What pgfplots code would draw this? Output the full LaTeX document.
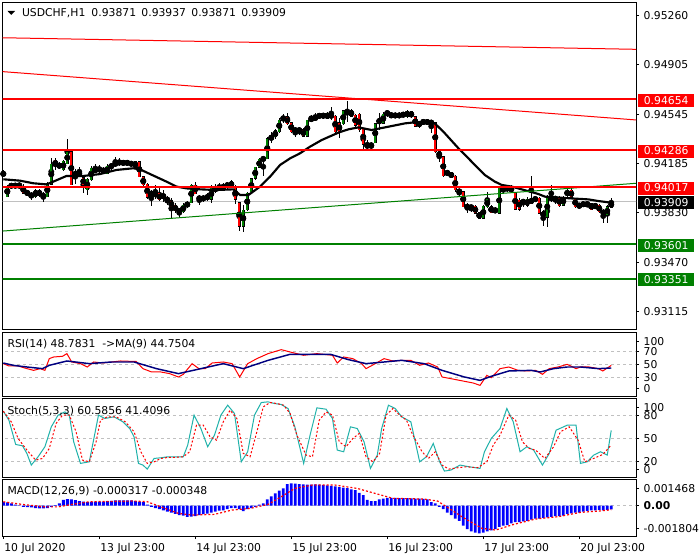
\documentclass[border=0pt]{standalone}
\usepackage{fontspec}
\setmainfont{DejaVu Sans}
\usepackage{pgfplots}
\usepackage{pgfplotstable}
\pgfplotsset{compat=1.18}
\definecolor{mtred}{RGB}{255,0,0}
\definecolor{mtgreen}{RGB}{0,128,0}
\definecolor{mtgray}{RGB}{192,192,192}
\definecolor{mtnavy}{RGB}{0,0,128}
\definecolor{mtteal}{RGB}{32,178,170}
\definecolor{mtblue}{RGB}{0,0,255}

\pgfplotstableread{
k o h l c
1 0.93947 0.94036 0.93942 0.94020
3 0.94015 0.94049 0.94007 0.94039
6 0.93966 0.93995 0.93952 0.93983
8 0.93947 0.94000 0.93934 0.93990
9 0.93959 0.94000 0.93947 0.93990
11 0.93947 0.94056 0.93942 0.94044
12 0.94039 0.94225 0.94032 0.94184
14 0.94160 0.94201 0.94145 0.94184
15 0.94141 0.94213 0.94136 0.94206
16 0.94189 0.94363 0.94184 0.94274
19 0.94104 0.94160 0.94097 0.94128
21 0.94000 0.94080 0.93959 0.94073
22 0.94068 0.94170 0.94063 0.94153
24 0.94128 0.94174 0.94121 0.94160
26 0.94116 0.94184 0.94111 0.94170
28 0.94170 0.94233 0.94165 0.94201
30 0.94184 0.94213 0.94170 0.94201
33 0.94160 0.94208 0.94153 0.94201
37 0.93947 0.93995 0.93879 0.93983
45 0.93838 0.93898 0.93831 0.93886
46 0.93874 0.93918 0.93862 0.93908
47 0.93903 0.94039 0.93898 0.94032
50 0.93923 0.93959 0.93910 0.93947
51 0.93927 0.93971 0.93918 0.93959
52 0.93927 0.94032 0.93903 0.94007
55 0.94000 0.94044 0.93995 0.94032
57 0.94020 0.94068 0.94007 0.94056
60 0.93734 0.93886 0.93693 0.93850
61 0.93850 0.93983 0.93845 0.93971
62 0.93983 0.94087 0.93976 0.94080
63 0.94080 0.94165 0.94068 0.94160
64 0.94160 0.94225 0.94153 0.94218
65 0.94218 0.94230 0.94097 0.94225
66 0.94225 0.94378 0.94223 0.94370
67 0.94363 0.94419 0.94334 0.94387
68 0.94383 0.94436 0.94370 0.94426
69 0.94419 0.94516 0.94412 0.94504
70 0.94499 0.94547 0.94479 0.94533
74 0.94426 0.94450 0.94395 0.94436
76 0.94387 0.94508 0.94383 0.94504
77 0.94499 0.94540 0.94492 0.94521
78 0.94504 0.94552 0.94499 0.94533
79 0.94523 0.94552 0.94516 0.94547
81 0.94516 0.94564 0.94508 0.94552
85 0.94479 0.94576 0.94467 0.94571
86 0.94552 0.94642 0.94492 0.94564
92 0.94305 0.94346 0.94286 0.94339
93 0.94339 0.94484 0.94334 0.94479
94 0.94479 0.94557 0.94431 0.94516
95 0.94479 0.94564 0.94475 0.94547
98 0.94528 0.94557 0.94516 0.94547
100 0.94533 0.94564 0.94523 0.94552
101 0.94528 0.94576 0.94523 0.94571
104 0.94460 0.94499 0.94450 0.94492
106 0.94479 0.94508 0.94470 0.94499
120 0.93789 0.93886 0.93782 0.93879
121 0.93874 0.93983 0.93862 0.93927
124 0.93826 0.94020 0.93821 0.94015
125 0.93983 0.94024 0.93971 0.94020
126 0.93995 0.94029 0.93983 0.94020
130 0.93898 0.93934 0.93874 0.93923
131 0.93886 0.93942 0.93874 0.93927
133 0.93923 0.93947 0.93910 0.93934
136 0.93797 0.93959 0.93729 0.93952
137 0.93923 0.94032 0.93910 0.93947
138 0.93923 0.93952 0.93898 0.93942
140 0.93886 0.93952 0.93879 0.93942
141 0.93952 0.94007 0.93942 0.93995
145 0.93886 0.93910 0.93874 0.93898
151 0.93814 0.93886 0.93758 0.93874
152 0.93871 0.93937 0.93871 0.93909
}\bull

\pgfplotstableread{
k o h l c
0 0.94128 0.94141 0.94087 0.94097
2 0.94039 0.94049 0.94005 0.94015
4 0.94039 0.94044 0.94007 0.94020
5 0.94024 0.94039 0.93966 0.93971
7 0.93971 0.93983 0.93927 0.93942
10 0.93966 0.93983 0.93910 0.93942
13 0.94213 0.94225 0.94141 0.94170
17 0.94274 0.94279 0.94032 0.94036
18 0.94128 0.94145 0.94039 0.94097
20 0.94087 0.94097 0.93971 0.94032
23 0.94153 0.94184 0.94121 0.94128
25 0.94145 0.94165 0.94111 0.94121
27 0.94177 0.94194 0.94145 0.94160
29 0.94206 0.94225 0.94170 0.94184
31 0.94201 0.94208 0.94174 0.94184
32 0.94201 0.94208 0.94165 0.94174
34 0.94201 0.94208 0.94087 0.94092
35 0.94092 0.94097 0.94020 0.94032
36 0.94039 0.94044 0.93927 0.93942
38 0.93983 0.94032 0.93934 0.93947
39 0.93971 0.94007 0.93918 0.93923
40 0.93959 0.93995 0.93910 0.93942
41 0.93942 0.93952 0.93886 0.93910
42 0.93918 0.93934 0.93789 0.93869
43 0.93886 0.93898 0.93831 0.93845
44 0.93850 0.93862 0.93797 0.93838
48 0.94032 0.94056 0.93966 0.93971
49 0.93947 0.93959 0.93886 0.93923
53 0.94020 0.94039 0.93971 0.93983
54 0.94020 0.94044 0.93990 0.94000
56 0.94044 0.94056 0.94007 0.94020
58 0.94020 0.94032 0.93898 0.93927
59 0.93903 0.93910 0.93700 0.93734
71 0.94528 0.94557 0.94467 0.94479
72 0.94484 0.94492 0.94412 0.94419
73 0.94436 0.94443 0.94383 0.94426
75 0.94436 0.94443 0.94383 0.94387
80 0.94547 0.94557 0.94516 0.94523
82 0.94547 0.94600 0.94504 0.94523
83 0.94533 0.94540 0.94395 0.94419
84 0.94484 0.94516 0.94370 0.94419
87 0.94571 0.94581 0.94528 0.94533
88 0.94540 0.94552 0.94455 0.94467
89 0.94547 0.94552 0.94419 0.94436
90 0.94436 0.94443 0.94291 0.94329
91 0.94329 0.94358 0.94291 0.94305
96 0.94571 0.94576 0.94528 0.94540
97 0.94552 0.94557 0.94516 0.94528
99 0.94547 0.94552 0.94523 0.94528
102 0.94564 0.94571 0.94516 0.94528
103 0.94528 0.94533 0.94455 0.94460
105 0.94499 0.94508 0.94475 0.94479
107 0.94492 0.94504 0.94412 0.94479
108 0.94484 0.94492 0.94262 0.94274
109 0.94274 0.94281 0.94201 0.94237
110 0.94237 0.94242 0.94092 0.94097
111 0.94128 0.94141 0.94097 0.94111
112 0.94121 0.94128 0.94080 0.94087
113 0.94097 0.94104 0.93983 0.93995
114 0.93995 0.94000 0.93952 0.93976
115 0.93983 0.93990 0.93869 0.93874
116 0.93879 0.93903 0.93831 0.93869
117 0.93874 0.93886 0.93838 0.93869
118 0.93879 0.93886 0.93821 0.93826
119 0.93831 0.93838 0.93782 0.93789
122 0.93874 0.93886 0.93826 0.93831
123 0.93862 0.93874 0.93826 0.93831
127 0.94020 0.94029 0.93976 0.93983
128 0.93976 0.93983 0.93850 0.93855
129 0.93923 0.93934 0.93845 0.93855
132 0.93934 0.94097 0.93893 0.93898
134 0.93934 0.93942 0.93821 0.93826
135 0.93838 0.93850 0.93734 0.93797
139 0.93942 0.93952 0.93874 0.93879
142 0.93995 0.94007 0.93934 0.93942
143 0.93934 0.93942 0.93869 0.93874
144 0.93886 0.93898 0.93869 0.93874
146 0.93903 0.93910 0.93869 0.93886
147 0.93898 0.93903 0.93850 0.93855
148 0.93886 0.93893 0.93862 0.93874
149 0.93886 0.93893 0.93831 0.93838
150 0.93845 0.93855 0.93758 0.93821
}\bear

\pgfplotstableread{
k v
0 0.94073
4.2 0.94063
7.5 0.94044
10.8 0.94036
12.5 0.94056
15.8 0.94097
20 0.94097
24.2 0.94111
28.3 0.94141
32.5 0.94153
34.2 0.94145
36.7 0.94111
40.8 0.94056
43.3 0.94020
45.8 0.94007
49.2 0.94000
53.3 0.93995
57.5 0.94000
59.2 0.93959
61.3 0.93959
64.2 0.94020
66.7 0.94092
69.2 0.94177
71.7 0.94225
74.2 0.94262
76.7 0.94310
79.6 0.94358
83.8 0.94412
86.3 0.94436
88.8 0.94450
92.1 0.94431
96.3 0.94455
100.4 0.94479
102.9 0.94487
105.4 0.94484
107.9 0.94479
110.4 0.94407
113.8 0.94298
117.1 0.94201
120.4 0.94104
122.9 0.94056
124.6 0.94032
127.1 0.94020
129.6 0.94000
133.8 0.93966
135.4 0.93947
137.9 0.93942
142.1 0.93934
146.3 0.93927
148.8 0.93915
152 0.93903
}\ma

\pgfplotstableread{
k v
0 51.6
1.4 47.9
3.7 47.9
5.9 43.7
7.6 41
9.2 43.7
10.4 41
11.5 59.5
12.6 62.1
14.8 63.2
15.9 67.4
17.1 54.2
19.3 51.6
21 46.3
22.6 54.2
24.9 52.6
27.1 54.2
29.3 55.8
31.6 55.3
33.2 55.3
34.9 43.7
37.1 38.4
39.4 38.4
41.6 35.8
43.8 30.5
45 34.7
47.2 51.6
48.9 43.7
50.5 43.7
52.2 52.6
55 54.2
57.2 51.6
59.1 30.5
61.1 51.6
63.4 59.5
66.2 67.4
69.5 73.7
71.7 70
75.1 64.8
78.4 67.4
82.3 64.8
83.5 52.6
85.1 62.1
87.4 59.5
89.6 51.6
90.7 43.7
93 51.6
95.2 59.5
97.4 55.8
99.6 56.8
101.9 56.8
104.1 49
106.3 52.6
108.6 46.3
109.7 30.5
111.9 27.9
115.3 23.7
117.5 21
119.2 17.3
120.9 33.1
122 29.4
124.2 43.7
126.4 46.3
128.7 41
130.9 40
133.1 41
134.8 34.7
136.5 43.7
138.7 46.3
141 50.5
143.2 43.7
144.3 46.3
146.5 46.3
148.8 43.7
149.9 40
152 48.78
}\rsi

\pgfplotstableread{
k v
0 52.6
2.5 48.9
5.9 46.3
9.8 43.7
11.5 48.9
15.9 55.8
21.5 51.6
27.1 54.2
32.7 54.2
38.3 43.7
43.8 35.8
49.4 43.7
55 51.6
60 43.7
66.2 56.8
71.7 66.3
77.3 66.3
81.8 66.3
86.3 57.9
90.7 51.6
95.2 54.2
99.6 56.8
105.2 51.6
109.7 41
115.3 30.5
119.2 25.2
122 31.6
126.4 40
132 41
134.2 38.4
137.6 43.7
141 46.3
144.3 46.3
148.8 43.7
152 44.75
}\rsima

\pgfplotstableread{
k v
0 85.9
1.4 74.1
3.1 42.1
4.8 40.4
5.9 30.3
7 15
8.7 25.9
10.4 39.1
12 65.3
13.7 80.7
15.4 85
16.5 80.7
17.6 45.6
19.3 17.2
21.5 19.3
23.8 80.7
25.4 76.3
27.7 78.5
29.9 71.9
31.6 63.1
32.7 52.2
33.8 17.2
34.9 15
36 9.7
37.7 23.7
39.4 24.6
41.1 25.9
42.7 25.9
45 25.9
46.1 41.2
47.7 80.7
49.4 63.1
51.1 39.1
52.8 54.4
54.4 80.7
56.1 93.8
57.8 82.9
59.5 19.3
61.1 32.5
62.8 80.7
64.5 97.3
66.2 98.2
67.8 96
69.5 94.7
71.2 89.4
72.9 65.3
75.1 17.2
76.8 56.6
78.4 90.3
80.7 88.5
82.3 76.3
83.5 34.7
85.1 32.5
86.8 65.3
88.5 63.1
90.2 45.6
91.8 10.6
93.5 28.1
94.6 63.1
96.3 93.8
98 89.4
99.6 78.5
101.9 71.9
104.1 19.3
105.8 25.9
107.5 43.4
109.1 19.3
110.3 7.1
111.9 8.4
114.2 15
116.4 12.8
119.2 10.6
120.3 32.5
122 50
124.2 63.1
125.9 89.4
127.5 71.9
129.2 32.5
130.9 39.1
132.6 34.7
134.8 15
136.5 30.3
138.2 60.9
141 67.5
143.2 67.5
144.3 17.2
146 19.3
147.6 28.1
149.3 32.5
151 28.1
152 60.59
}\stm

\pgfplotstableread{
k v
0 85.9
2 71.9
3.7 50
5.9 34.7
8.1 21.5
9.8 23.7
11.5 36.9
13.2 69.7
14.8 80.7
16.5 80.7
18.2 58.8
19.8 21.5
21.5 19.3
23.2 45.6
24.3 74.1
26 78.5
28.2 78.5
30.5 71.9
32.7 58.8
34.4 32.5
36 17.2
37.7 19.3
39.4 23.7
41.1 25
42.7 25
45 25.9
46.6 32.5
48.3 67.5
50 67.5
51.7 52.2
53.3 47.8
55 71.9
56.7 87.2
58.4 76.3
60 30.3
61.7 25.9
63.4 58.8
65 91.6
66.7 97.3
68.4 96
70.1 93.8
71.7 82.9
73.4 54.4
75.7 28.1
77.3 25.9
79 74.1
80.7 85
82.3 80.7
84 45.6
85.7 39.1
87.4 50
89 56.6
90.7 25.9
92.4 19.3
94.1 30.3
95.7 80.7
97.4 89.4
99.1 80.7
100.8 74.1
102.4 54.4
104.7 32.5
106.3 23.7
108 32.5
109.7 15
111.4 9.7
113.6 11.5
115.8 12.8
118.6 11.5
120.9 19.3
122.5 41.2
124.2 54.4
126.4 80.7
128.1 74.1
129.8 45.6
131.5 36.9
133.1 34.7
135.4 23.7
137.6 39.1
139.3 58.8
141.5 65.3
143.7 47.8
145.4 19.3
147.6 23.7
149.9 29
152 41.41
}\sts

\pgfplotstableread{
k v
0 0.0003
1 0.00028
2 0.0002
3 0.0001
4 0.00002
5 -0.0001
6 -0.00012
7 -0.00015
8 -0.0002
9 -0.00023
10 -0.00023
11 -0.0002
12 -0.0001
13 0.00005
14 0.0002
15 0.0005
16 0.00057
17 0.00055
18 0.00048
19 0.0004
20 0.00035
21 0.0003
22 0.00032
23 0.00035
24 0.00035
25 0.00036
26 0.0004
27 0.00042
28 0.00045
29 0.00046
30 0.00046
31 0.00046
32 0.00045
33 0.0004
34 0.00035
35 0.0003
36 0.0001
37 -0.0001
38 -0.0002
39 -0.0003
40 -0.0004
41 -0.0005
42 -0.0006
43 -0.0007
44 -0.0008
45 -0.00085
46 -0.00095
47 -0.00094
48 -0.0009
49 -0.0008
50 -0.00072
51 -0.00068
52 -0.0006
53 -0.0005
54 -0.00042
55 -0.0004
56 -0.0003
57 -0.0002
58 -0.0002
59 -0.0003
60 -0.00046
61 -0.0003
62 -0.0002
63 -0.0001
64 0.0001
65 0.0002
66 0.00055
67 0.0008
68 0.00105
69 0.0013
70 0.00148
71 0.00185
72 0.00191
73 0.0019
74 0.00185
75 0.00182
76 0.0018
77 0.0018
78 0.00182
79 0.0018
80 0.00177
81 0.00175
82 0.0017
83 0.00165
84 0.0016
85 0.00155
86 0.0015
87 0.0014
88 0.00134
89 0.0011
90 0.0009
91 0.0005
92 0.0004
93 0.0004
94 0.00055
95 0.0006
96 0.00068
97 0.00068
98 0.00068
99 0.00066
100 0.00066
101 0.00065
102 0.00062
103 0.0006
104 0.0006
105 0.00058
106 0.00055
107 0.0003
108 0.0002
109 -0.0001
110 -0.0003
111 -0.0006
112 -0.0008
113 -0.0011
114 -0.0013
115 -0.0017
116 -0.002
117 -0.0022
118 -0.0023
119 -0.00237
120 -0.0023
121 -0.0022
122 -0.0021
123 -0.002
124 -0.0018
125 -0.0017
126 -0.00165
127 -0.0015
128 -0.0014
129 -0.0014
130 -0.00135
131 -0.0013
132 -0.0012
133 -0.0011
134 -0.0011
135 -0.00105
136 -0.001
137 -0.00095
138 -0.0009
139 -0.0009
140 -0.00085
141 -0.0007
142 -0.00065
143 -0.0006
144 -0.0006
145 -0.0005
146 -0.00045
147 -0.0004
148 -0.0004
149 -0.00035
150 -0.0004
151 -0.00035
152 -0.000317
}\macdh

\pgfplotstableread{
k v
0 0.00034
4.8 0.00011
10.4 -0.0001
13.7 -0.0001
17.1 0.00011
21.5 0.00034
32.7 0.0004
36 0.00034
39.4 -0.0001
43.8 -0.00066
47.2 -0.0008
52.8 -0.00074
57.2 -0.00037
61.7 -0.00023
66.2 0.00011
69.5 0.00077
72.9 0.00148
77.3 0.00177
82.9 0.00177
88.5 0.00148
93 0.00105
97.4 0.00063
105.2 0.00057
108.6 0.0004
110.8 -0.00009
115.3 -0.00108
119.7 -0.00194
123.1 -0.00208
127.6 -0.0016
133.1 -0.00114
138.7 -0.00094
144.3 -0.00057
148.8 -0.00046
152 -0.000348
}\macds

\pgfplotsset{
  mtpanel/.style={
    scale only axis, width=475pt, xmin=-0.15, xmax=158.2,
    anchor=north west, clip mode=individual,
    axis line style={black, line width=0.75pt},
    xtick=\empty, ytick pos=right, tick align=outside,
    major tick length=2.25pt, tick style={black, line width=0.75pt},
    yticklabels={}, xticklabels={},
    scaled y ticks=false, scaled x ticks=false,
  },
  wick/.style={only marks, mark=none, forget plot,
    error bars/.cd, y dir=both, y explicit, error mark=none,
    error bar style={black, line width=0.75pt}},
  bodyout/.style={only marks, mark=none, forget plot,
    error bars/.cd, y dir=both, y explicit, error mark=none,
    error bar style={black, line width=2.4pt}},
  bodyin/.style={only marks, mark=none, forget plot,
    error bars/.cd, y dir=both, y explicit, error mark=none,
    error bar style={#1, line width=1.5pt}},
}
\tikzset{
  rlab/.style={anchor=west, inner sep=0pt, xshift=5.5pt},
  lvl/.style={anchor=west, inner sep=0pt, xshift=1.3pt, yshift=-0.8pt,
    minimum width=42.2pt, minimum height=9.75pt, fill=#1, text=white},
  dlab/.style={anchor=base west, inner sep=0pt, xshift=0.6pt, yshift=-11.8pt},
}

\begin{document}
\fontsize{8.1pt}{10pt}\selectfont
\begin{tikzpicture}
\fill[white] (0,0) rectangle (525pt,-420pt);
\path[use as bounding box] (0,0) rectangle (525pt,-420pt);

% ---------- main price panel ----------
\begin{axis}[mtpanel, at={(2.025pt,-2.25pt)}, height=245.25pt,
  ymin=0.929784, ymax=0.953534,
  ytick={0.93115,0.93470,0.93830,0.94185,0.94545,0.94905,0.95260}]
\addplot[mtgray, line width=0.75pt, forget plot] coordinates {(-1,0.93909) (160,0.93909)};
\addplot[wick] table[x=k, y expr={(\thisrow{h}+\thisrow{l})/2}, y error expr={(\thisrow{h}-\thisrow{l})/2}] {\bull};
\addplot[wick] table[x=k, y expr={(\thisrow{h}+\thisrow{l})/2}, y error expr={(\thisrow{h}-\thisrow{l})/2}] {\bear};
\addplot[bodyout] table[x=k, y expr={(\thisrow{o}+\thisrow{c})/2}, y error expr={abs(\thisrow{o}-\thisrow{c})/2+0.00003}] {\bull};
\addplot[bodyout] table[x=k, y expr={(\thisrow{o}+\thisrow{c})/2}, y error expr={abs(\thisrow{o}-\thisrow{c})/2+0.00003}] {\bear};
\addplot[bodyin=mtgreen] table[x=k, y expr={(\thisrow{o}+\thisrow{c})/2}, y error expr={abs(\thisrow{o}-\thisrow{c})/2}] {\bull};
\addplot[bodyin=mtred] table[x=k, y expr={(\thisrow{o}+\thisrow{c})/2}, y error expr={abs(\thisrow{o}-\thisrow{c})/2}] {\bear};
\addplot[black, line width=1.6pt, forget plot] table[x=k, y=v] {\ma};
% trend lines and levels
\addplot[mtred, line width=0.75pt, forget plot] coordinates {(-0.15,0.95101) (158.2,0.95017)};
\addplot[mtred, line width=0.75pt, forget plot] coordinates {(-0.15,0.94855) (158.2,0.94504)};
\addplot[mtgreen, line width=0.75pt, forget plot] coordinates {(-0.15,0.93697) (158.2,0.94044)};
\addplot[mtred, line width=1.5pt, forget plot] coordinates {(-1,0.94654) (160,0.94654)};
\addplot[mtred, line width=1.5pt, forget plot] coordinates {(-1,0.94286) (160,0.94286)};
\addplot[mtred, line width=1.5pt, forget plot] coordinates {(-1,0.94017) (160,0.94017)};
\addplot[mtgreen, line width=1.5pt, forget plot] coordinates {(-1,0.93601) (160,0.93601)};
\addplot[mtgreen, line width=1.5pt, forget plot] coordinates {(-1,0.93351) (160,0.93351)};
% right scale labels
\node[rlab] at (axis cs:158.2,0.95260) {0.95260};
\node[rlab] at (axis cs:158.2,0.94905) {0.94905};
\node[rlab] at (axis cs:158.2,0.94545) {0.94545};
\node[rlab] at (axis cs:158.2,0.94185) {0.94185};
\node[rlab] at (axis cs:158.2,0.93830) {0.93830};
\node[rlab] at (axis cs:158.2,0.93470) {0.93470};
\node[rlab] at (axis cs:158.2,0.93115) {0.93115};
\node[lvl=mtred] at (axis cs:158.2,0.94654) {0.94654};
\node[lvl=mtred] at (axis cs:158.2,0.94286) {0.94286};
\node[lvl=mtred] at (axis cs:158.2,0.94017) {0.94017};
\node[lvl=black] at (axis cs:158.2,0.93909) {0.93909};
\node[lvl=mtgreen] at (axis cs:158.2,0.93601) {0.93601};
\node[lvl=mtgreen] at (axis cs:158.2,0.93351) {0.93351};
\end{axis}

% ---------- RSI ----------
\begin{axis}[mtpanel, at={(2.025pt,-249.5pt)}, height=47.5pt,
  ymin=0.5, ymax=100.5, ytick={12.6,30,50,70,86.3}]
\addplot[mtgray, line width=0.75pt, dash pattern=on 2.25pt off 2.25pt, forget plot] coordinates {(-1,70) (160,70)};
\addplot[mtgray, line width=0.75pt, dash pattern=on 2.25pt off 2.25pt, forget plot] coordinates {(-1,50) (160,50)};
\addplot[mtgray, line width=0.75pt, dash pattern=on 2.25pt off 2.25pt, forget plot] coordinates {(-1,30) (160,30)};
\addplot[mtred, line width=0.75pt, forget plot] table[x=k, y=v] {\rsi};
\addplot[mtnavy, line width=1.1pt, forget plot] table[x=k, y=v] {\rsima};
\node[rlab] at (axis cs:158.2,86.3) {100};
\node[rlab] at (axis cs:158.2,70) {70};
\node[rlab] at (axis cs:158.2,50) {50};
\node[rlab] at (axis cs:158.2,30) {30};
\node[rlab] at (axis cs:158.2,12.6) {0};
\end{axis}

% ---------- Stochastic ----------
\begin{axis}[mtpanel, at={(2.025pt,-298.7pt)}, height=59.25pt,
  ymin=-1.05, ymax=102.9, ytick={9.5,20,50,80,91}]
\addplot[mtgray, line width=0.75pt, dash pattern=on 2.25pt off 2.25pt, forget plot] coordinates {(-1,80) (160,80)};
\addplot[mtgray, line width=0.75pt, dash pattern=on 2.25pt off 2.25pt, forget plot] coordinates {(-1,50) (160,50)};
\addplot[mtgray, line width=0.75pt, dash pattern=on 2.25pt off 2.25pt, forget plot] coordinates {(-1,20) (160,20)};
\addplot[mtteal, line width=0.75pt, forget plot] table[x=k, y=v] {\stm};
\addplot[mtred, line width=0.75pt, dash pattern=on 1.5pt off 1.5pt, forget plot] table[x=k, y=v] {\sts};
\node[rlab] at (axis cs:158.2,91) {100};
\node[rlab] at (axis cs:158.2,80) {80};
\node[rlab] at (axis cs:158.2,50) {50};
\node[rlab] at (axis cs:158.2,20) {20};
\node[rlab] at (axis cs:158.2,9.5) {0};
\end{axis}

% ---------- MACD ----------
\begin{axis}[mtpanel, at={(2.025pt,-359.5pt)}, height=42.5pt,
  ymin=-0.002591, ymax=0.002257, ytick={-0.00199,0,0.001468},
  xtick={0,24,48,72,96,120,144}, xtick pos=bottom]
\addplot[mtgray, line width=0.75pt, dash pattern=on 2.25pt off 2.25pt, forget plot] coordinates {(-1,0) (160,0)};
\addplot[ybar, bar width=2.2pt, fill=mtblue, draw=none, forget plot] table[x=k, y=v] {\macdh};
\addplot[mtred, line width=0.9pt, dash pattern=on 1.5pt off 1.5pt, forget plot] table[x=k, y=v] {\macds};
\node[rlab] at (axis cs:158.2,0.001468) {0.001468};
\node[rlab] at (axis cs:158.2,0) {\bfseries 0.00};
\node[rlab] at (axis cs:158.2,-0.00199) {-0.001804};
\node[dlab] at (axis cs:0,-0.002591) {10 Jul 2020};
\node[dlab] at (axis cs:24,-0.002591) {13 Jul 23:00};
\node[dlab] at (axis cs:48,-0.002591) {14 Jul 23:00};
\node[dlab] at (axis cs:72,-0.002591) {15 Jul 23:00};
\node[dlab] at (axis cs:96,-0.002591) {16 Jul 23:00};
\node[dlab] at (axis cs:120,-0.002591) {17 Jul 23:00};
\node[dlab] at (axis cs:144,-0.002591) {20 Jul 23:00};
\end{axis}

% ---------- panel captions ----------
\fill[black] (5.6pt,-8.2pt) -- (11.3pt,-8.2pt) -- (8.45pt,-11.2pt) -- cycle;
\node[anchor=base west, inner sep=0pt] at (16.3pt,-12.5pt) {USDCHF,H1\hspace{4.6pt}0.93871\hspace{1.4pt} 0.93937\hspace{1.4pt} 0.93871\hspace{1.4pt} 0.93909};
\node[anchor=base west, inner sep=0pt] at (5.5pt,-260.5pt) {RSI(14) 48.7831 \ ->MA(9) 44.7504};
\node[anchor=base west, inner sep=0pt] at (5.5pt,-310.5pt) {Stoch(5,3,3) 60.5856 41.4096};
\node[anchor=base west, inner sep=0pt] at (5.5pt,-370.7pt) {MACD(12,26,9) -0.000317 -0.000348};
\end{tikzpicture}
\end{document}
